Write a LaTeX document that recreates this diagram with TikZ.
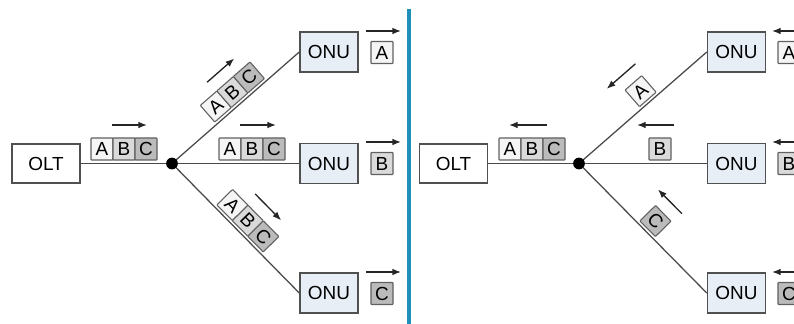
\documentclass[tikz,border=0pt]{standalone}
\usepackage{fontspec}
\setmainfont{Liberation Sans}
\usetikzlibrary{arrows.meta,calc}
\definecolor{edgec}{HTML}{505050}
\definecolor{wirec}{HTML}{4A4A4A}
\definecolor{onufill}{HTML}{E7EEF5}
\definecolor{cA}{HTML}{F5F5F5}
\definecolor{cB}{HTML}{DADADA}
\definecolor{cC}{HTML}{BBBBBB}
\definecolor{cellc}{HTML}{606060}
\definecolor{divc}{HTML}{1E90B8}
\tikzset{
  devbox/.style={draw=edgec, line width=1.1pt, fill=white, inner sep=0pt, minimum width=51pt, minimum height=29.25pt},
  onubox/.style={devbox, fill=onufill, minimum width=43.5pt, minimum height=30pt},
  cell/.style={draw=cellc, line width=0.8pt, rounded corners=0.5pt, inner sep=0pt, minimum size=16.5pt},
  wire/.style={draw=wirec, line width=0.95pt},
  arr/.style={draw=black!85, line width=1pt, -{Latex[length=6.5pt,width=5pt]}},
}
\newcommand\dcell[7]{%
  \coordinate (#1-o) at ($(#2)!#4!(#3)$);
  \node[cell,fill=#6,rotate=#5] (#1) at ($(#1-o)!10.5pt!90:(#3)$) {#7};}
\newcommand\darrow[4]{%
  \coordinate (da1) at ($(#1)!#3!(#2)$);
  \coordinate (da2) at ($(#1)!#4!(#2)$);
  \draw[arr] ($(da1)!28.5pt!90:(#2)$) -- ($(da2)!28.5pt!90:(#2)$);}
\begin{document}
\begin{tikzpicture}[x=0.75pt,y=-0.75pt,font=\fontsize{14.2}{16}\selectfont]
\useasboundingbox (0,0) rectangle (794,324);
\clip (0,0) rectangle (794,324);

% ---------------- left panel (downstream) ----------------
\node[devbox] (olt1) at (46,163.5) {OLT};
\node[onubox] (u1) at (329,52) {ONU};
\node[onubox] (m1) at (329,163.5) {ONU};
\node[onubox] (d1) at (329,293) {ONU};
\coordinate (s1) at (172,163.5);
\draw[wire] (olt1.east) -- (s1);
\draw[wire] (s1) -- (u1.west);
\draw[wire] (s1) -- (m1.west);
\draw[wire] (s1) -- (d1.west);
\fill[black] (s1) circle (4.4pt);

\node[cell,fill=cA] (h1a) at (102,149) {A};
\node[cell,fill=cB] (h1b) at (124,149) {B};
\node[cell,fill=cC] (h1c) at (146,149) {C};
\coordinate (h1s) at (112,125); \coordinate (h1e) at (147,125);
\draw[arr] (h1s) -- (h1e);

\node[cell,fill=cA] (g1a) at (230,149) {A};
\node[cell,fill=cB] (g1b) at (252,149) {B};
\node[cell,fill=cC] (g1c) at (274,149) {C};
\coordinate (g1s) at (240,125); \coordinate (g1e) at (276,125);
\draw[arr] (g1s) -- (g1e);

\dcell{ua}{s1}{u1.west}{52.9pt}{41.06}{cA}{A}
\dcell{ub}{s1}{u1.west}{69.4pt}{41.06}{cB}{B}
\dcell{uc}{s1}{u1.west}{85.9pt}{41.06}{cC}{C}
\darrow{s1}{u1.west}{60pt}{87pt}

\dcell{da}{s1}{d1.west}{54pt}{-45.33}{cA}{A}
\dcell{db}{s1}{d1.west}{70.5pt}{-45.33}{cB}{B}
\dcell{dc}{s1}{d1.west}{87pt}{-45.33}{cC}{C}
\darrow{s1}{d1.west}{60pt}{87.75pt}

\node[cell,fill=cA] (l1a) at (382,52.5) {A};
\node[cell,fill=cB] (l1b) at (382,163.5) {B};
\node[cell,fill=cC] (l1c) at (382,293.5) {C};
\coordinate (r1as) at (366,31); \coordinate (r1ae) at (401,31);
\coordinate (r1bs) at (366,142); \coordinate (r1be) at (401,142);
\coordinate (r1cs) at (366,272); \coordinate (r1ce) at (401,272);
\draw[arr] (r1as) -- (r1ae);
\draw[arr] (r1bs) -- (r1be);
\draw[arr] (r1cs) -- (r1ce);

% divider
\coordinate (divt) at (409,9); \coordinate (divb) at (409,324);
\draw[divc, line width=3pt] (divt) -- (divb);

% ---------------- right panel (upstream) ----------------
\node[devbox] (olt2) at (453.5,163.5) {OLT};
\node[onubox] (u2) at (736.5,52) {ONU};
\node[onubox] (m2) at (736.5,163.5) {ONU};
\node[onubox] (d2) at (736.5,293) {ONU};
\coordinate (s2) at (579,163.5);
\draw[wire] (olt2.east) -- (s2);
\draw[wire] (s2) -- (u2.west);
\draw[wire] (s2) -- (m2.west);
\draw[wire] (s2) -- (d2.west);
\fill[black] (s2) circle (4.4pt);

\node[cell,fill=cA] (h2a) at (510,149) {A};
\node[cell,fill=cB] (h2b) at (532,149) {B};
\node[cell,fill=cC] (h2c) at (554,149) {C};
\coordinate (h2s) at (547,125); \coordinate (h2e) at (509,125);
\draw[arr] (h2s) -- (h2e);

\node[cell,fill=cB] (g2b) at (660,149) {B};
\coordinate (g2s) at (674,125); \coordinate (g2e) at (637,125);
\draw[arr] (g2s) -- (g2e);

\dcell{ua2}{s2}{u2.west}{70.5pt}{41.06}{cA}{A}
\darrow{s2}{u2.west}{81pt}{52.5pt}
\dcell{dc2}{s2}{d2.west}{71pt}{-45.33}{cC}{C}
\darrow{s2}{d2.west}{81pt}{55.5pt}

\node[cell,fill=cA] (l2a) at (789,52.5) {A};
\node[cell,fill=cB] (l2b) at (789,163.5) {B};
\node[cell,fill=cC] (l2c) at (789,293.5) {C};
\coordinate (r2as) at (808,31); \coordinate (r2ae) at (772,31);
\coordinate (r2bs) at (808,142); \coordinate (r2be) at (772,142);
\coordinate (r2cs) at (808,272); \coordinate (r2ce) at (772,272);
\draw[arr] (r2as) -- (r2ae);
\draw[arr] (r2bs) -- (r2be);
\draw[arr] (r2cs) -- (r2ce);
\end{tikzpicture}
\end{document}
